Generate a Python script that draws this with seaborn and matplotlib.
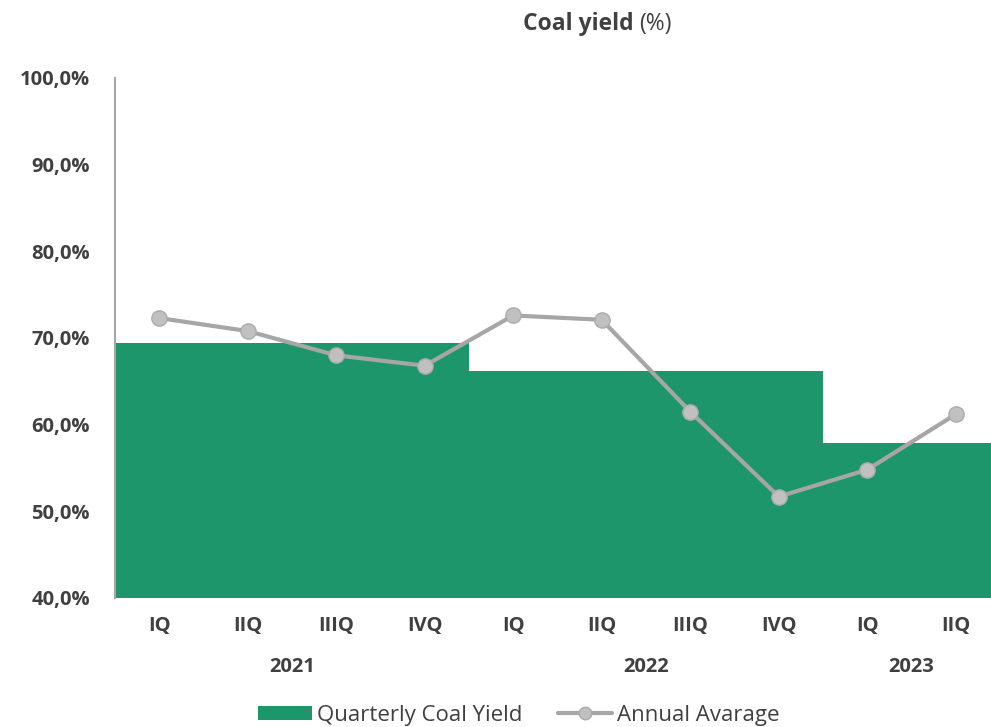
import matplotlib
matplotlib.use("Agg")
import matplotlib.pyplot as plt
import seaborn as sns
import pandas as pd
from matplotlib.patches import Patch
from matplotlib.lines import Line2D

quarters = ["IQ", "IIQ", "IIIQ", "IVQ", "IQ", "IIQ", "IIIQ", "IVQ", "IQ", "IIQ"]
years = ["2021", "2021", "2021", "2021", "2022", "2022", "2022", "2022", "2023", "2023"]
quarterly_yield = [69.4, 69.4, 69.4, 69.4, 66.2, 66.2, 66.2, 66.2, 57.9, 57.9]
annual_avg = [72.3, 70.8, 68.0, 66.8, 72.6, 72.1, 61.5, 51.7, 54.8, 61.2]
year_labels = ["2021", "2022", "2023"]

GREEN = "#1E966C"
GREY = "#A6A6A6"
TXT = "#404040"

sns.set_theme(style="white")
plt.rcParams["font.family"] = ["Open Sans", "DejaVu Sans"]

df = pd.DataFrame({
    "key": [f"{y} {q}" for y, q in zip(years, quarters)],
    "pos": list(range(len(quarters))),
    "quarter": quarters,
    "year": years,
    "bar": quarterly_yield,
    "line": annual_avg,
})

fig = plt.figure(figsize=(9.91, 7.27), dpi=100)
ax = fig.add_axes([115/991, 1-598/727, 885/991, (598-78)/727])

sns.barplot(data=df, x="key", y="bar", order=df["key"], color=GREEN,
            saturation=1, width=1.0, ax=ax, linewidth=0)
sns.lineplot(data=df, x="pos", y="line", ax=ax, color=GREY, linewidth=3,
             marker="o", markersize=11, markerfacecolor="#C0C0C0",
             markeredgecolor="#ABABAB", markeredgewidth=1)

ax.set_xlim(-0.5, 9.5)
ax.set_ylim(40, 100)
ax.set_yticks([40, 50, 60, 70, 80, 90, 100])
ax.set_yticklabels([f"{v:.1f}%".replace(".", ",") for v in [40, 50, 60, 70, 80, 90, 100]],
                   fontsize=14.5, fontweight="bold", color=TXT)
ax.set_xticks(range(len(quarters)))
ax.set_xticklabels(quarters, fontsize=14.5, fontweight="bold", color=TXT)
ax.tick_params(axis="x", length=0, pad=13)
ax.tick_params(axis="y", length=0, pad=18)
ax.set_xlabel("")
ax.set_ylabel("")
for s in ["top", "right", "bottom"]:
    ax.spines[s].set_visible(False)
ax.spines["left"].set_color("#A6A6A6")
ax.spines["left"].set_linewidth(1.5)
ax.grid(False)

# year group labels
year_centers = {}
for i, y in enumerate(years):
    year_centers.setdefault(y, []).append(i)
for y in year_labels:
    c = sum(year_centers[y]) / len(year_centers[y])
    ax.text(c, -0.133, y, transform=ax.get_xaxis_transform(), ha="center", va="center",
            fontsize=14.5, fontweight="bold", color=TXT)

# title
fig.text(634/991, 1-24/727, "Coal yield", ha="right", va="center", fontsize=16.5,
         fontweight="bold", color=TXT)
fig.text(639/991, 1-24/727, "(%)", ha="left", va="center", fontsize=16.5, color=TXT)

handles = [Patch(facecolor=GREEN, edgecolor="none"),
           Line2D([0], [0], color=GREY, linewidth=3, marker="o", markersize=9,
                  markerfacecolor="#C0C0C0", markeredgecolor="#ABABAB")]
leg = fig.legend(handles, ["Quarterly Coal Yield", "Annual Avarage"], loc="center",
                 bbox_to_anchor=(519/991, 1-715/727), ncol=2, frameon=False,
                 fontsize=16, handlelength=2.4, handletextpad=0.25, columnspacing=1.6,
                 handleheight=0.6)
for t in leg.get_texts():
    t.set_color(TXT)

fig.savefig("out.png", dpi=100)
